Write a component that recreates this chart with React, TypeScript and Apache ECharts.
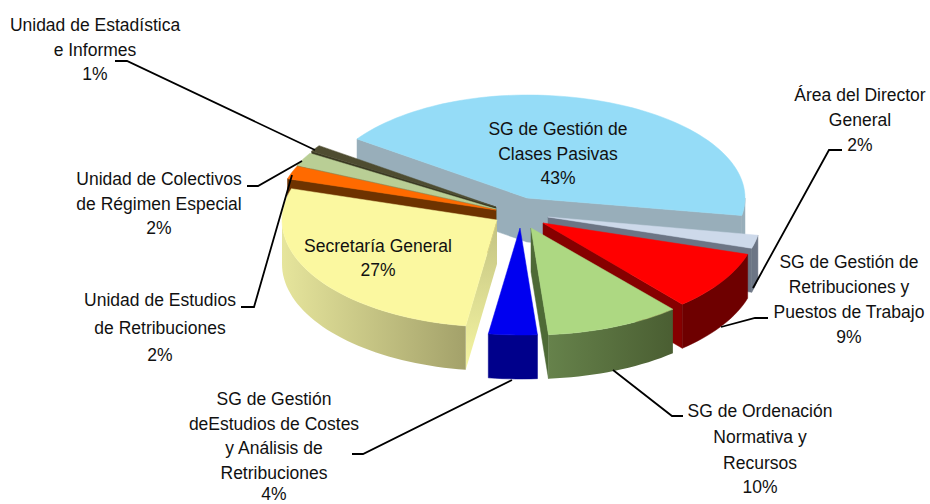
import React, { useEffect, useRef } from "react";
import * as echarts from "echarts";

// ---- data (clockwise from the first slice) ----
const categories = [
  "SG de Gestión de Clases Pasivas",
  "Área del Director General",
  "SG de Gestión de Retribuciones y Puestos de Trabajo",
  "SG de Ordenación Normativa y Recursos",
  "SG de Gestión deEstudios de Costes y Análisis de Retribuciones",
  "Secretaría General",
  "Unidad de Estudios de Retribuciones",
  "Unidad de Colectivos de Régimen Especial",
  "Unidad de Estadística e Informes",
];
// Slice sizes; the printed labels round them.
const values = [43, 2, 9, 10, 3.6, 27.4, 2, 2, 1];
const labelLines = [
  ["SG de Gestión de", "Clases Pasivas", "43%"],
  ["Área del Director", "General", "2%"],
  ["SG de Gestión de", "Retribuciones y", "Puestos de Trabajo", "9%"],
  ["SG de Ordenación", "Normativa y", "Recursos", "10%"],
  ["SG de Gestión", "deEstudios de Costes", "y Análisis de", "Retribuciones", "4%"],
  ["Secretaría General", "27%"],
  ["Unidad de Estudios", "de Retribuciones", "2%"],
  ["Unidad de Colectivos", "de Régimen Especial", "2%"],
  ["Unidad de Estadística", "e Informes", "1%"],
];

// ---- layout ----
const START_ANGLE = -55; // degrees clockwise from 12 o'clock
const CX = 520;
const CY = 214;
const DEPTH = 44;
const sliceOffset: [number, number][] = [
  [7, -16], [28, 3], [23, 9], [11, 14], [0, 14], [-23, 6], [-24, -4], [-24, -5], [-24, -7],
];
const sliceRx = [218, 213, 214, 218, 218, 215, 218, 218, 218];
const sliceRxLeft = [207.5, 213, 214, 218, 218, 215, 218, 218, 216];
const sliceRy = [103, 107, 107, 107, 107, 107, 107, 107, 107];
const paintOrder = [0, 1, 2, 8, 7, 6, 5, 3, 4];
const labelCenterX = [558, 860, 849, 760, 274, 378, 160, 159, 95];
const labelLineY = [
  [129, 154, 178],
  [95, 120, 145],
  [262, 287, 312, 337],
  [411, 437, 463, 487],
  [399, 424, 448, 473, 494],
  [246, 270],
  [300, 328, 355],
  [179, 204, 228],
  [25, 50, 74],
];
const leaders: number[][][] = [
  [[115, 61], [127, 61], [315, 150]],
  [[247, 186], [258, 186], [302, 161]],
  [[241, 307], [254, 307], [292, 175]],
  [[352, 454], [363, 454], [512, 380]],
  [[613, 370], [672, 416], [683, 416]],
  [[721, 327], [755, 318], [768, 318]],
  [[753, 288], [829, 150], [842, 150]],
];

const lin = (x2: number, y2: number, a: string, b: string) =>
  new echarts.graphic.LinearGradient(0, 0, x2, y2, [
    { offset: 0, color: a },
    { offset: 1, color: b },
  ]);

const topColor = ["#95DCF7", "#CDD9EA", "#FF0000", "#ADD882", "#0000F0", "#FBF8A0", "#FF6A00", "#B9CE95", "#4E4C30"];
const wallColor: any[] = [
  "#98AEBA", "#6C7585", "#6E0000", lin(1, 0, "#66824B", "#4A5E32"), "#00008B",
  lin(1, 0, "#E6E59C", "#A3A16A"), "#6E3300", "#7E8C62", "#3A3922",
];
const sideColor: any[] = [
  "#98AEBA", "#6C7585", "#860000", "#4E6A36", "#00008B",
  lin(0, 1, "#C2C282", "#F6F6A2"), "#6E3300", "#7E8C62", "#3A3922",
];

// ---- slice angles, derived from the values ----
const total = values.reduce((a, b) => a + b, 0);
const sliceStart: number[] = [];
values.reduce((acc, v, i) => {
  sliceStart[i] = acc;
  return acc + (v / total) * 360;
}, START_ANGLE);

function renderSlice(_: any, api: any) {
  const i = api.value(0);
  const sweep = (api.value(1) / total) * 360;
  const a0 = sliceStart[i];
  const a1 = a0 + sweep;
  const ax = CX + sliceOffset[i][0];
  const ay = CY + sliceOffset[i][1];
  const rim = (deg: number, dz = 0) => {
    const r = (deg * Math.PI) / 180;
    const s = Math.sin(r);
    return [ax + (s < 0 ? sliceRxLeft[i] : sliceRx[i]) * s, ay - sliceRy[i] * Math.cos(r) + dz];
  };
  const arc = (from: number, to: number, dz = 0) => {
    const pts: number[][] = [];
    const n = Math.max(2, Math.ceil(Math.abs(to - from) / 2));
    for (let k = 0; k <= n; k++) pts.push(rim(from + ((to - from) * k) / n, dz));
    return pts;
  };
  const children: any[] = [];
  const poly = (points: number[][], fill: any) =>
    children.push({
      type: "polygon",
      shape: { points },
      style: { fill, stroke: typeof fill === "string" ? fill : "none", lineWidth: 0.5 },
      silent: true,
    });
  const side = (p: number[]) =>
    poly([[ax, ay], p, [p[0], p[1] + DEPTH], [ax, ay + DEPTH]], sideColor[i]);
  // radial side faces, only those turned towards the viewer
  if (Math.sin((a0 * Math.PI) / 180) < 0) side(rim(a0));
  if (Math.sin((a1 * Math.PI) / 180) > 0) side(rim(a1));
  // outer wall: only the part of the rim that faces the viewer
  const w0 = Math.max(a0, 90);
  const w1 = Math.min(a1, 270);
  if (w1 > w0) poly([...arc(w0, w1), ...arc(w1, w0, DEPTH)], wallColor[i]);
  // top face
  poly([[ax, ay], ...arc(a0, a1)], topColor[i]);
  return { type: "group", children };
}

const FONT = '"Liberation Sans", Arial, sans-serif';

export default function App() {
  const ref = useRef<HTMLDivElement>(null);
  useEffect(() => {
    document.body.style.margin = "0";
    const chart = echarts.init(ref.current!, undefined, { renderer: "svg" });
    const texts: any[] = [];
    labelLines.forEach((lines, i) =>
      lines.forEach((t, j) =>
        texts.push({
          type: "text",
          z: 10,
          silent: true,
          style: {
            text: t,
            x: labelCenterX[i],
            y: labelLineY[i][j],
            align: "center",
            verticalAlign: "middle",
            fontFamily: FONT,
            fontSize: 17.5,
            fill: "#111111",
          },
        })
      )
    );
    const lines = leaders.map((points) => ({
      type: "polyline",
      z: 9,
      silent: true,
      shape: { points },
      style: { stroke: "#000000", lineWidth: 1.8, fill: "none" },
    }));
    chart.setOption({
      animation: false,
      backgroundColor: "#ffffff",
      series: [
        {
          type: "custom",
          coordinateSystem: "none",
          silent: true,
          renderItem: renderSlice,
          encode: { itemName: 2 },
          data: paintOrder.map((i) => [i, values[i], categories[i]]),
        },
      ],
      graphic: { elements: [...lines, ...texts] },
    });
    return () => chart.dispose();
  }, []);
  return <div ref={ref} style={{ width: 930, height: 504 }} />;
}
